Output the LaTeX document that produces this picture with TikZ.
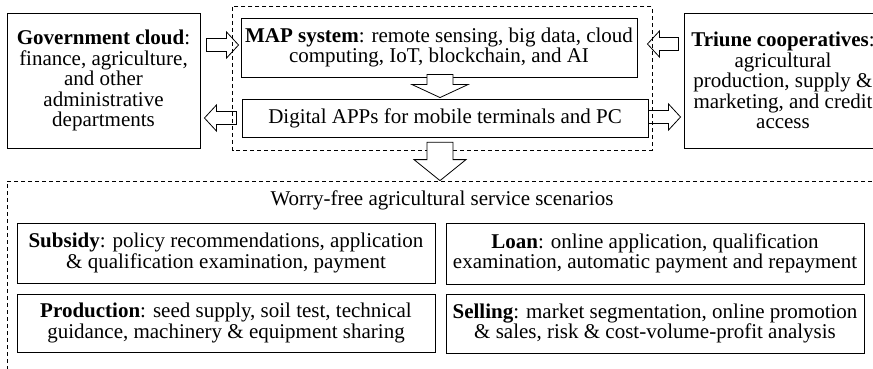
\documentclass[tikz,border=0pt]{standalone}
\usepackage{fontspec}
\setmainfont{Liberation Serif}
\usetikzlibrary{calc}
\tikzset{
  txt/.style={font=\fontsize{21}{20.5}\selectfont, align=center, inner sep=0pt},
  box/.style={txt, draw, line width=0.9pt},
  dbox/.style={draw, line width=0.8pt, dash pattern=on 4pt off 3pt},
  barrow/.style={draw, fill=white, line width=0.8pt, line join=miter}
}
% horizontal block arrow: tail point, tip point (y taken from tip)
\newcommand\hbarrow[2]{%
  \draw[barrow] let \p1=(#1), \p2=(#2), \n1={sign(\x2-\x1)*12} in
  (\x1,\y2+6.5pt) -- (\x2-\n1,\y2+6.5pt) -- (\x2-\n1,\y2+13pt) -- (\p2) --
  (\x2-\n1,\y2-13pt) -- (\x2-\n1,\y2-6.5pt) -- (\x1,\y2-6.5pt) -- cycle;}
% vertical (downward) block arrow: tail point, tip point, head half width, head length
\newcommand\vbarrow[4]{%
  \draw[barrow] let \p1=(#1), \p2=(#2) in
  (\x2-13pt,\y1) -- (\x2+13pt,\y1) -- (\x2+13pt,\y2+#4) -- (\x2+#3,\y2+#4) --
  (\p2) -- (\x2-#3,\y2+#4) -- (\x2-13pt,\y2+#4) -- cycle;}
\begin{document}
\begin{tikzpicture}[x=1pt,y=1pt]
\clip (0,0) rectangle (873,-368);
\fill[white] (0,0) rectangle (873,-368);

% frames (positions only; drawn later / here)
\node[minimum width=419, minimum height=143, inner sep=0pt] (topdash) at (442.5,-78.5) {};
\node[dbox, minimum width=883, minimum height=219] (botdash) at (448.5,-290.5) {};

\node[box, minimum width=193, minimum height=135] (gov) at (103.5,-80.5)
  {\textbf{Government cloud}:\\finance, agriculture,\\and other\\administrative\\departments};
\node[box, minimum width=396, minimum height=59] (map) at (439,-47.5)
  {\textbf{MAP system}: remote sensing, big data, cloud\\computing, IoT, blockchain, and AI};
\node[box, minimum width=406, minimum height=38] (digital) at (445,-118)
  {Digital APPs for mobile terminals and PC};
\node[box, minimum width=198, minimum height=135] (triune) at (783,-80.5)
  {\textbf{Triune cooperatives}:\\agricultural\\production, supply \&\\marketing, and credit\\access};

\hbarrow{$(gov.east)+(6,0)$}{$(map.west)+(-2,2.5)$}
\hbarrow{$(digital.west)+(-5,0)$}{$(gov.east|-digital.west)+(4,0)$}
\hbarrow{$(triune.west)+(-5,0)$}{$(map.east)+(10,3.5)$}
\hbarrow{digital.east}{$(triune.west|-digital.east)+(-3,1)$}

% dashed frame drawn over the horizontal arrows
\draw[dbox] (topdash.north west) rectangle (topdash.south east);

\vbarrow{$(map.south)+(1,3)$}{$(map.south|-digital.north)+(1,1)$}{28pt}{13pt}
\coordinate (vt) at ($(topdash.south)+(-2.5,8)$);
\vbarrow{vt}{vt|-botdash.north}{26pt}{21pt}

\node[txt] (title) at (442,-200) {Worry-free agricultural service scenarios};

\node[box, minimum width=418, minimum height=60] (subsidy) at (226,-253)
  {\textbf{Subsidy}: policy recommendations, application\\\& qualification examination, payment};
\node[box, minimum width=418, minimum height=58] (production) at (226,-323)
  {\textbf{Production}: seed supply, soil test, technical\\guidance, machinery \& equipment sharing};
\node[box, minimum width=418, minimum height=61] (loan) at (655,-253.5)
  {\textbf{Loan}: online application, qualification\\examination, automatic payment and repayment};
\node[box, minimum width=418, minimum height=59] (selling) at (655,-323.5)
  {\textbf{Selling}: market segmentation, online promotion\\\& sales, risk \& cost-volume-profit analysis};
\end{tikzpicture}
\end{document}
